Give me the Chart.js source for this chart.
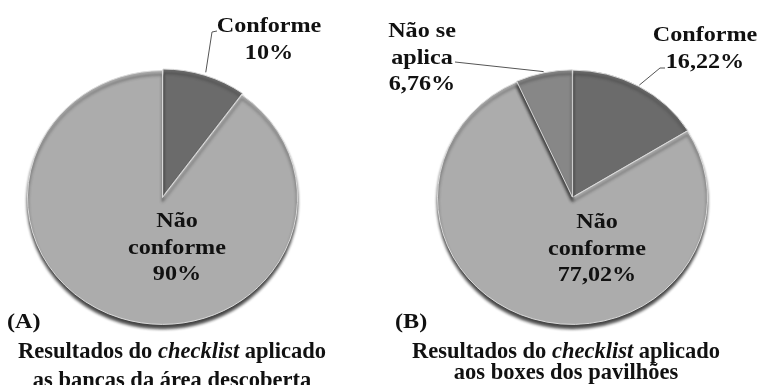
<!DOCTYPE html>
<html lang="pt-br">
<head>
<meta charset="UTF-8">
<title>Resultados do checklist</title>
<style>
  body { margin: 0; background: #fff; }
  #painel { position: relative; width: 762px; height: 385px; overflow: hidden; background: #fff; }
  #painel canvas { position: absolute; top: 0; }
  #graficoA { left: 0; }
  #graficoB { left: 381px; }
</style>
</head>
<body>
<div id="painel">
  <canvas id="graficoA" width="381" height="385"></canvas>
  <canvas id="graficoB" width="381" height="385"></canvas>
</div>

<script src="https://cdn.jsdelivr.net/npm/chart.js"></script>
<script>
// Dados dos dois checklists
const categoriasA = ['Conforme', 'Não conforme'];
const valoresA = [10, 90];
const rotulosA = [['Conforme'], ['Não', 'conforme']];

const categoriasB = ['Conforme', 'Não conforme', 'Não se aplica'];
const valoresB = [16.22, 77.02, 6.76];
const rotulosB = [['Conforme'], ['Não', 'conforme'], ['Não se', 'aplica']];

const tituloA = ['Resultados do *checklist* aplicado', 'as bancas da área descoberta'];
const tituloB = ['Resultados do *checklist* aplicado', 'aos boxes dos pavilhões'];

const coresA = ['#6b6b6b', '#acacac'];
const coresB = ['#6b6b6b', '#acacac', '#878787'];

// achatamento vertical para dar a impressao de pizza inclinada
const ACHATA = 0.94;
const FONTE = '"Liberation Serif", "Times New Roman", serif';
const COR_TEXTO = '#111';

function formataPct(v) {
    return (Number.isInteger(v) ? String(v) : v.toFixed(2).replace('.', ',')) + '%';
}

function texto(ctx, str, x, y, tam, esticar) {
    ctx.save();
    ctx.translate(x, y);
    ctx.scale(esticar, 1);
    ctx.font = 'bold ' + tam + 'px ' + FONTE;
    ctx.fillStyle = COR_TEXTO;
    ctx.textAlign = 'center';
    ctx.textBaseline = 'alphabetic';
    ctx.fillText(str, 0, 0);
    ctx.restore();
}

// linha com trechos em italico marcados por *
function linhaMista(ctx, str, cx, y, tam) {
    const partes = str.split('*');
    const fontes = partes.map((p, i) => (i % 2 ? 'italic bold ' : 'bold ') + tam + 'px ' + FONTE);
    let total = 0;
    const larguras = partes.map((p, i) => {
        ctx.font = fontes[i];
        const w = ctx.measureText(p).width;
        total += w;
        return w;
    });
    let x = cx - total / 2;
    ctx.save();
    ctx.fillStyle = COR_TEXTO;
    ctx.textAlign = 'left';
    partes.forEach((p, i) => {
        ctx.font = fontes[i];
        ctx.fillText(p, x, y);
        x += larguras[i];
    });
    ctx.restore();
}

function pizzaPlugin(opt) {
    return {
        id: 'pizzaInclinada',
        beforeDatasetsDraw(chart) {
            const ctx = chart.ctx;
            const arc = chart.getDatasetMeta(0).data[0];
            ctx.save();
            ctx.translate(arc.x, arc.y);
            ctx.scale(1, ACHATA);
            ctx.translate(-arc.x, -arc.y);
            ctx.shadowColor = 'rgba(45,45,45,0.9)';
            ctx.shadowOffsetY = 4;
            ctx.shadowBlur = 3;
        },
        afterDatasetsDraw(chart) {
            chart.ctx.restore();
        },
        afterDraw(chart) {
            const ctx = chart.ctx;
            const meta = chart.getDatasetMeta(0);
            const valores = chart.data.datasets[0].data;
            const desloc = chart.data.datasets[0].offset || [];

            meta.data.forEach((arc, i) => {
                const pos = opt.rotulos[i];
                const linhas = opt.textos[i].concat([formataPct(valores[i])]);
                linhas.forEach((l, k) => texto(ctx, l, pos.x, pos.y + k * 26.5, 21, 1.15));

                if (pos.guia) {
                    const p = arc.getProps(['x', 'y', 'startAngle', 'endAngle', 'outerRadius'], true);
                    const meio = (p.startAngle + p.endAngle) / 2;
                    const r = p.outerRadius + (desloc[i] || 0);
                    ctx.save();
                    ctx.strokeStyle = '#555';
                    ctx.lineWidth = 1;
                    ctx.beginPath();
                    ctx.moveTo(p.x + Math.cos(meio) * r, p.y + Math.sin(meio) * r * ACHATA);
                    pos.guia.forEach(pt => ctx.lineTo(pt[0], pt[1]));
                    ctx.stroke();
                    ctx.restore();
                }
            });

            ctx.save();
            ctx.font = 'bold 21px ' + FONTE;
            ctx.fillStyle = COR_TEXTO;
            ctx.translate(opt.marca.x, opt.marca.y);
            ctx.scale(1.15, 1);
            ctx.fillText(opt.marca.texto, 0, 0);
            ctx.restore();

            opt.titulo.forEach((l, k) => linhaMista(ctx, l, opt.tituloX, opt.tituloY[k], 22.5));
        }
    };
}

function criaPizza(id, categorias, valores, cores, desloc, padding, plugin) {
    return new Chart(document.getElementById(id), {
        type: 'pie',
        data: {
            labels: categorias,
            datasets: [{
                data: valores,
                backgroundColor: cores,
                borderColor: '#dcdcdc',
                borderWidth: 1,
                offset: desloc,
                radius: 135
            }]
        },
        options: {
            responsive: false,
            animation: false,
            devicePixelRatio: 1,
            layout: { padding: padding },
            plugins: {
                legend: { display: false },
                tooltip: { enabled: false }
            }
        },
        plugins: [plugin]
    });
}

// (A) bancas da area descoberta
criaPizza('graficoA', categoriasA, valoresA, coresA, [5, 0],
    { left: 27, right: 83, top: 62, bottom: 52 },
    pizzaPlugin({
        textos: rotulosA,
        rotulos: [
            { x: 269, y: 32, guia: [[212, 32], [217, 31]] },
            { x: 177, y: 227 }
        ],
        marca: { texto: '(A)', x: 7, y: 328 },
        titulo: tituloA,
        tituloX: 172,
        tituloY: [358, 387]
    }));

// (B) boxes dos pavilhoes
criaPizza('graficoB', categoriasB, valoresB, coresB, [2, 0, 2],
    { left: 56, right: 54, top: 62, bottom: 52 },
    pizzaPlugin({
        textos: rotulosB,
        rotulos: [
            { x: 324, y: 41, guia: [[279, 68], [284, 68]] },
            { x: 216, y: 228 },
            { x: 41, y: 37, guia: [[74, 62]] }
        ],
        marca: { texto: '(B)', x: 14, y: 328 },
        titulo: tituloB,
        tituloX: 185,
        tituloY: [358, 379]
    }));
</script>
</body>
</html>
